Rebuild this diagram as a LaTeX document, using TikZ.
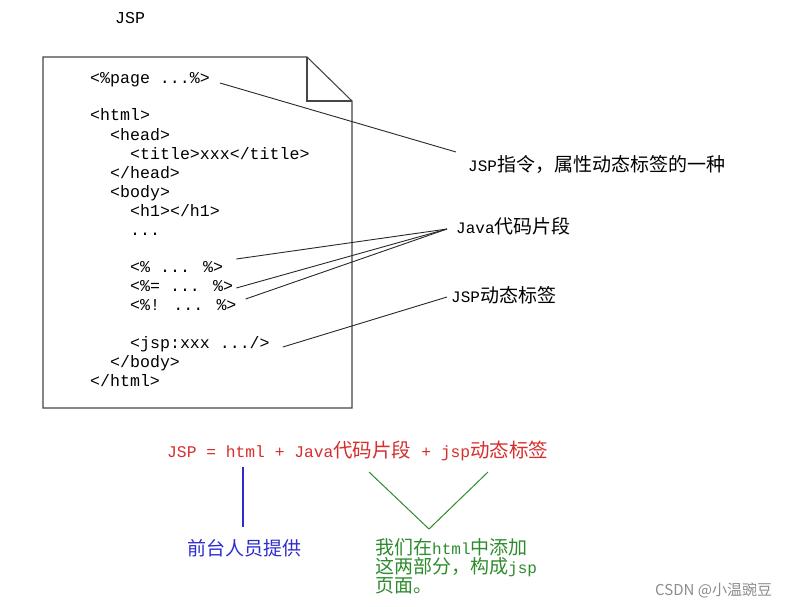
\documentclass[tikz,border=0pt]{standalone}
\usepackage{fontspec}
\setmainfont{Liberation Mono}
\newfontfamily\mono{Liberation Mono}
\newfontfamily\cjk{Noto Sans CJK SC}
\newcommand\zh[1]{{\cjk\fontsize{19}{19}\selectfont #1}}
\newcommand\zhb[1]{{\cjk\fontsize{19.5}{19.5}\selectfont #1}}
\definecolor{paperc}{RGB}{70,70,70}
\definecolor{connc}{RGB}{40,40,40}
\definecolor{redc}{RGB}{215,45,45}
\definecolor{bluec}{RGB}{45,45,205}
\definecolor{greenc}{RGB}{45,140,45}
\definecolor{wmc}{RGB}{140,140,140}
\begin{document}
\begin{tikzpicture}[x=1pt,y=-1pt,
  code/.style={anchor=west,inner sep=0pt,text height=11pt,text depth=3pt,font=\mono\fontsize{16.6}{19}\selectfont},
  lab/.style={anchor=west,inner sep=0pt,font=\mono\fontsize{16}{19}\selectfont},
  conn/.style={draw=connc,line width=0.9pt},
  paper/.style={draw=paperc,line width=1.1pt,line join=miter}]
\useasboundingbox (0,0) rectangle (805,607);
\fill[white] (0,0) rectangle (805,607);
% title
\node[code] (title) at (115,20) {JSP};
% paper
\draw[paper] (43,57) -- (307,57) -- (352,101) -- (352,408) -- (43,408) -- cycle;
\draw[paper] (307,57) -- (307,101) -- (352,101);
% code lines
\node[code] (page)  at (90,80)  {<\%page ...\%>};
\node[code] (html)  at (90,117) {<html>};
\node[code] (head)  at (110,136) {<head>};
\node[code] (ttl)   at (130,155) {<title>xxx</title>};
\node[code] (ehead) at (110,174) {</head>};
\node[code] (body)  at (110,193) {<body>};
\node[code] (hone)  at (130,212) {<h1></h1>};
\node[code] (dots)  at (130,231) {...};
\node[code] (sone)  at (130,268) {<\% ... \%>};
\node[code] (stwo)  at (130,287) {<\%= ... \%>};
\node[code] (sthr)  at (130,306) {<\%! ... \%>};
\node[code] (jsp)   at (130,344) {<jsp:xxx .../>};
\node[code] (ebody) at (110,363) {</body>};
\node[code] (ehtml) at (90,382) {</html>};
% labels
\node[lab] (lone) at (468,164) {JSP\zh{指令，属性动态标签的一种}};
\node[lab] (ltwo) at (456,226) {Java\zh{代码片段}};
\node[lab] (lthr) at (451,295) {JSP\zh{动态标签}};
% connectors
\draw[conn] ([xshift=10pt,yshift=-3pt]page.east) -- ([xshift=-12pt,yshift=12pt]lone.west);
\draw[conn] ([xshift=13pt,yshift=9pt]sone.east) -- ([xshift=-9pt,yshift=-3pt]ltwo.west);
\draw[conn] ([xshift=3pt,yshift=-1pt]stwo.east) -- ([xshift=-9pt,yshift=-3pt]ltwo.west);
\draw[conn] ([xshift=9pt,yshift=7pt]sthr.east) -- ([xshift=-9pt,yshift=-3pt]ltwo.west);
\draw[conn] ([xshift=13pt,yshift=-3pt]jsp.east) -- ([xshift=-4pt,yshift=-2pt]lthr.west);
% formula
\node[anchor=west,inner sep=0pt,text=redc,font=\mono\fontsize{16.3}{19}\selectfont] (formula) at (167,451)
  {JSP = html + Java\zhb{代码片段}{} + jsp\zhb{动态标签}};
% blue
\node[anchor=west,inner sep=0pt,text=bluec] (blue) at (187,548) {\zh{前台人员提供}};
\coordinate (btop) at (243,467);
\coordinate (bbot) at (243,527);
\draw[bluec,line width=1.2pt] (btop) -- (bbot);
% green
\node[anchor=north west,inner sep=0pt,text=greenc,align=left,font=\mono\fontsize{16}{19}\selectfont] (green) at (375,538)
  {\zh{我们在}html\zh{中添加}\\\zh{这两部分，构成}jsp\\\zh{页面。}};
\coordinate (vl) at (369,472);
\coordinate (va) at (429,529);
\coordinate (vr) at (488,472);
\draw[greenc,line width=1pt] (vl) -- (va) -- (vr);
% watermark
\node[anchor=west,inner sep=0pt,text=wmc,font=\cjk\fontsize{15}{15}\selectfont] (wm) at (655,590) {CSDN @小温豌豆};
\end{tikzpicture}
\end{document}
